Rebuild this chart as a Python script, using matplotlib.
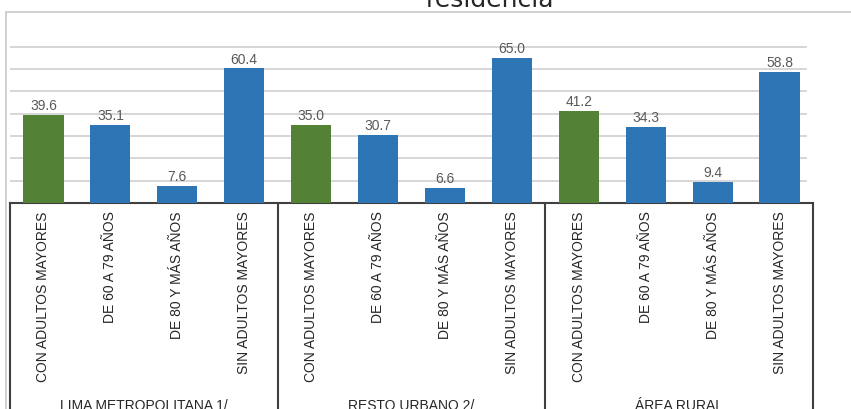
import matplotlib
matplotlib.use("Agg")
import matplotlib.pyplot as plt
from matplotlib.patches import Rectangle
import numpy as np

groups = ["LIMA METROPOLITANA 1/", "RESTO URBANO 2/", "ÁREA RURAL"]
categories = ["CON ADULTOS MAYORES", "DE 60 A 79 AÑOS", "DE 80 Y MÁS AÑOS", "SIN ADULTOS MAYORES"]
lima = [39.6, 35.1, 7.6, 60.4]
resto = [35.0, 30.7, 6.6, 65.0]
rural = [41.2, 34.3, 9.4, 58.8]

green = "#538135"
blue = "#2E75B6"
bar_colors = [green, blue, blue, blue]

plt.rcParams['font.family'] = ['Liberation Sans Narrow', 'Liberation Sans', 'DejaVu Sans']

fig = plt.figure(figsize=(8.51, 4.09), dpi=100)
ax = fig.add_axes([10/851, 206/409, 803/851, 178.4/409])

values = lima + resto + rural
labels = categories * 3
x = np.arange(len(values))
ax.bar(x, values, width=0.6, color=bar_colors * 3, zorder=3)

for xi, v in zip(x, values):
    ax.text(xi, v + 0.8, "{:.1f}".format(v), ha='center', va='bottom',
            fontsize=10, color='#595959', zorder=4)

ax.set_xlim(-0.5, len(values) - 0.5)
ax.set_ylim(0, 80)
for g in range(10, 80, 10):
    ax.plot([-0.5, 11.4], [g, g], color='#d0d0d0', lw=1.2, zorder=1)

for s in ['top', 'right', 'left']:
    ax.spines[s].set_visible(False)
ax.spines['bottom'].set_color('#404040')
ax.spines['bottom'].set_linewidth(1.5)
ax.set_yticks([])
ax.set_xticks(x)
ax.set_xticklabels(labels, rotation=90, fontsize=10, color='#262626')
ax.tick_params(axis='x', length=0, pad=6)

# group boxes under the axis
for b in [-0.5, 3.5, 7.5, 11.5]:
    ax.plot([b, b], [0, -120], color='#404040', lw=1.5, clip_on=False, zorder=5)
for gi, name in enumerate(groups):
    ax.text(gi * 4 + 1.5, -91.0, name, ha='center', va='center', fontsize=10,
            color='#262626', clip_on=False)

# outer chart border and cropped title
fig.patches.append(Rectangle((6/851, -0.1), 1.0, (409 - 12)/409 + 0.1, transform=fig.transFigure,
                             fill=False, edgecolor='#c8c8c8', lw=1.2))
fig.text(490/851, (409 - 7)/409, "residencia", ha='center', va='baseline',
         fontsize=18, color='#262626', family='DejaVu Sans')

fig.savefig("out.png", dpi=100)
